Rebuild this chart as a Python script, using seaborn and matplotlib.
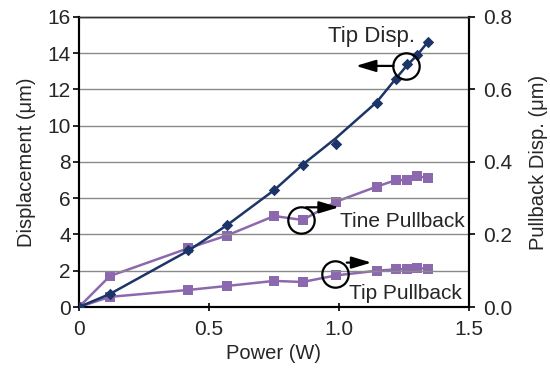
import matplotlib
matplotlib.use("Agg")
import matplotlib.pyplot as plt
import seaborn as sns
import pandas as pd

sns.set_theme(style="white")
plt.rcParams['font.family'] = ['Liberation Sans', 'DejaVu Sans']

# Data
power = [0.0, 0.119, 0.42, 0.568, 0.751, 0.860, 0.987, 1.145, 1.219, 1.260, 1.301, 1.341]
tip_disp = [0.0, 0.72, 3.15, 4.52, 6.45, 7.85, 9.0, 11.27, 12.6, 13.39, 13.88, 14.6]
tine_pullback = [0.0, 0.0855, 0.162, 0.197, 0.251, 0.240, 0.290, 0.332, 0.350, 0.350, 0.362, 0.355]
tip_pullback = [0.0, 0.028, 0.047, 0.058, 0.072, 0.069, 0.087, 0.100, 0.104, 0.105, 0.108, 0.105]

# Smooth line for tip displacement
fit_power = [0.0, 0.119, 0.42, 0.568, 0.751, 0.860, 0.987, 1.145, 1.219, 1.260, 1.301, 1.341]
fit_disp = [0.0, 0.72, 3.1, 4.5, 6.45, 7.85, 9.3, 11.3, 12.6, 13.3, 13.9, 14.6]

navy = "#1c3467"
purple = "#8c69ae"

df = pd.DataFrame({"power": power, "tip": tip_disp, "tine": tine_pullback, "tipp": tip_pullback})
dfit = pd.DataFrame({"power": fit_power, "disp": fit_disp})

fig = plt.figure(figsize=(5.5, 3.69), dpi=100)
ax = fig.add_axes([0.1436, 0.168, 0.709, 0.786])
ax2 = ax.twinx()

# left axis: tip displacement
sns.lineplot(data=dfit, x="power", y="disp", ax=ax, color=navy, lw=1.8, zorder=3)
sns.scatterplot(data=df, x="power", y="tip", ax=ax, color=navy, marker="D", s=34,
                edgecolor=navy, linewidth=0, zorder=4)

# right axis: pullback
sns.lineplot(data=df, x="power", y="tine", ax=ax2, color=purple, lw=1.8, marker="s",
             markersize=7.5, markeredgewidth=0, zorder=3)
sns.lineplot(data=df, x="power", y="tipp", ax=ax2, color=purple, lw=1.8, marker="s",
             markersize=7.5, markeredgewidth=0, zorder=3)

ax.set_xlim(0, 1.5)
ax.set_ylim(0, 16)
ax2.set_ylim(0, 0.8)
ax.set_xticks([0, 0.5, 1.0, 1.5])
ax.set_xticklabels(["0", "0.5", "1.0", "1.5"])
ax.set_yticks(range(0, 17, 2))
ax2.set_yticks([0.0, 0.2, 0.4, 0.6, 0.8])
ax2.set_yticklabels(["0.0", "0.2", "0.4", "0.6", "0.8"])

ax.yaxis.grid(True, color="#8a8a8a", lw=1.0)
ax.set_axisbelow(True)
ax.set_zorder(ax2.get_zorder() + 1)
ax.patch.set_visible(False)

fs = 15
lfs = 14.5
ax.set_xlabel("Power (W)", fontsize=lfs, labelpad=4)
ax.set_ylabel("Displacement (\u03bcm)", fontsize=lfs, labelpad=8)
ax2.set_ylabel("Pullback Disp. (\u03bcm)", fontsize=lfs, labelpad=12)
ax.tick_params(axis="y", labelsize=fs, direction="out", length=4, width=1.2, pad=2, color="black", left=True)
ax.tick_params(axis="x", labelsize=fs, direction="inout", length=6, width=1.2, pad=6, color="black", bottom=True)
ax2.tick_params(axis="y", labelsize=fs, direction="out", length=4, width=1.2, pad=6, color="black", right=True)

for a in (ax, ax2):
    for s in a.spines.values():
        s.set_color("black")
        s.set_linewidth(1.5)
    a.spines["top"].set_color("#333333")
    a.spines["top"].set_linewidth(1.0)

# annotations: circles, arrows and labels (in left-axis units)
circle_x = [1.258, 0.855, 0.986]
circle_y = [13.3, 4.8, 1.82]
for cx, cy in zip(circle_x, circle_y):
    ax.plot([cx], [cy], marker="o", markersize=19, markerfacecolor="none",
            markeredgecolor="black", markeredgewidth=1.6, zorder=6)

arrow_from = [(1.21, 13.3), (0.873, 5.5), (1.03, 2.45)]
arrow_to = [(1.065, 13.3), (1.0, 5.5), (1.125, 2.45)]
for (x0, y0), (x1, y1) in zip(arrow_from, arrow_to):
    ax.annotate("", xy=(x1, y1), xytext=(x0, y0),
                arrowprops=dict(arrowstyle="-|>,head_length=1.0,head_width=0.3",
                                color="black", lw=1.6, shrinkA=0, shrinkB=0), zorder=6)

ax.text(1.127, 14.9, "Tip Disp.", fontsize=fs + 1, ha="center", va="center", zorder=6)
ax.text(1.244, 4.7, "Tine Pullback", fontsize=fs, ha="center", va="center", zorder=6)
ax.text(1.256, 0.75, "Tip Pullback", fontsize=fs, ha="center", va="center", zorder=6)

fig.savefig("out.png", dpi=100)
